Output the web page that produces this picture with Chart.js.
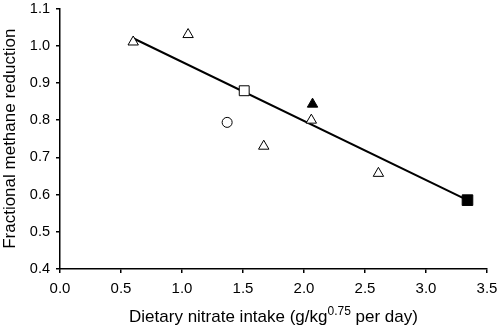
<!DOCTYPE html>
<html>
<head>
<meta charset="utf-8">
<script src="https://cdn.jsdelivr.net/npm/chart.js@4"></script>
<style>
  html, body {margin: 0; padding: 0; background: #fff;}
  #wrap {width: 500px; height: 327px;}
</style>
</head>
<body>
<div id="wrap"><canvas id="chart" width="500" height="327"></canvas></div>
<script>
// values
let openTriX = [0.60, 1.05, 1.67, 2.06, 2.61];
let openTriY = [1.01, 1.03, 0.73, 0.80, 0.657];
let filledTriX = [2.07];
let filledTriY = [0.843];
let openSquareX = [1.51];
let openSquareY = [0.879];
let openCircleX = [1.37];
let openCircleY = [0.794];
let filledSquareX = [3.34];
let filledSquareY = [0.585];
let fitX = [0.60, 3.34];
let fitY = [1.02, 0.585];

let xTicks = [0, 0.5, 1, 1.5, 2, 2.5, 3, 3.5];
let yTicks = [0.4, 0.5, 0.6, 0.7, 0.8, 0.9, 1.0, 1.1];

function pts(xs, ys) {
    return xs.map((x, i) => ({x: x, y: ys[i]}));
}

const font = "'Liberation Sans', Arial, sans-serif";

// x title has a superscript, so it is drawn here
const xTitlePlugin = {
    id: 'xTitle',
    afterDraw(chart) {
        const ctx = chart.ctx;
        const parts = [
            {t: 'Dietary nitrate intake (g/kg', f: '17px ' + font, dy: 0},
            {t: '0.75', f: '12px ' + font, dy: -7},
            {t: ' per day)', f: '17px ' + font, dy: 0}
        ];
        ctx.save();
        ctx.fillStyle = '#000';
        ctx.textBaseline = 'alphabetic';
        let total = 0;
        parts.forEach(p => { ctx.font = p.f; total += ctx.measureText(p.t).width; });
        let x = (chart.chartArea.left + chart.chartArea.right) / 2 - total / 2;
        parts.forEach(p => {
            ctx.font = p.f;
            ctx.fillText(p.t, x, 322 + p.dy);
            x += ctx.measureText(p.t).width;
        });
        ctx.restore();
    }
};

const ctx = document.getElementById('chart').getContext('2d');
new Chart(ctx, {
    type: 'scatter',
    data: {
        datasets: [
            {label: 'fit', data: pts(fitX, fitY), showLine: true, borderColor: '#000', borderWidth: 2, pointRadius: 0, order: 2},
            {label: 'open triangle', data: pts(openTriX, openTriY), pointStyle: 'triangle', pointRadius: 6, backgroundColor: '#fff', borderColor: '#000', borderWidth: 1, order: 1},
            {label: 'filled triangle', data: pts(filledTriX, filledTriY), pointStyle: 'triangle', pointRadius: 6, backgroundColor: '#000', borderColor: '#000', borderWidth: 1, order: 1},
            {label: 'open square', data: pts(openSquareX, openSquareY), pointStyle: 'rect', pointRadius: 7, backgroundColor: '#fff', borderColor: '#000', borderWidth: 1, order: 1},
            {label: 'open circle', data: pts(openCircleX, openCircleY), pointStyle: 'circle', pointRadius: 5, backgroundColor: '#fff', borderColor: '#000', borderWidth: 1, order: 1},
            {label: 'filled square', data: pts(filledSquareX, filledSquareY), pointStyle: 'rect', pointRadius: 7.5, backgroundColor: '#000', borderColor: '#000', borderWidth: 1, order: 1}
        ]
    },
    options: {
        responsive: false,
        animation: false,
        layout: {padding: {top: 6, right: 13, left: 0, bottom: 0}},
        plugins: {legend: {display: false}, tooltip: {enabled: false}},
        scales: {
            x: {
                type: 'linear', min: 0, max: 3.5,
                afterBuildTicks: s => { s.ticks = xTicks.map(v => ({value: v})); },
                afterFit: s => { s.height = 58; s.paddingLeft = 0; s.paddingRight = 0; },
                grid: {display: true, drawOnChartArea: false, drawTicks: true, tickLength: 4, color: '#000', lineWidth: 1.5},
                border: {color: '#000', width: 1.5},
                ticks: {color: '#000', padding: 7, font: {size: 15, family: font}, callback: v => v.toFixed(1)}
            },
            y: {
                type: 'linear', min: 0.4, max: 1.1,
                afterBuildTicks: s => { s.ticks = yTicks.map(v => ({value: v})); },
                afterFit: s => { s.width = 60; s.paddingTop = 0; s.paddingBottom = 0; },
                grid: {display: true, drawOnChartArea: false, drawTicks: true, tickLength: 4, color: '#000', lineWidth: 1.5},
                border: {color: '#000', width: 1.5},
                ticks: {color: '#000', padding: 6, font: {size: 14.5, family: font}, callback: v => v.toFixed(1)},
                title: {display: true, text: 'Fractional methane reduction', color: '#000', padding: 0, font: {size: 17, family: font}}
            }
        }
    },
    plugins: [xTitlePlugin]
});
</script>
</body>
</html>
